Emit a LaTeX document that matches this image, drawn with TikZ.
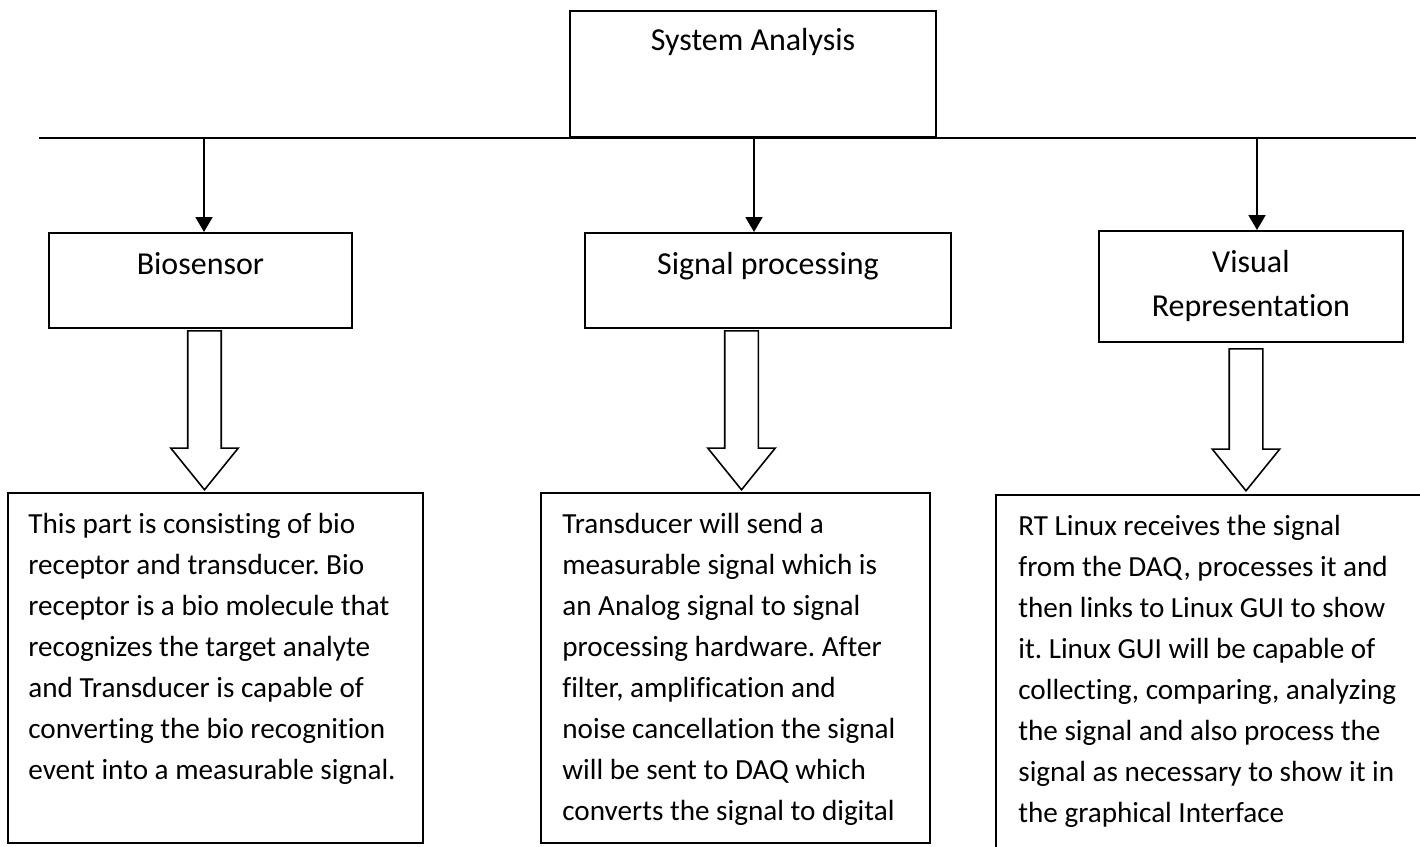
\documentclass[tikz,border=0pt]{standalone}
\usepackage{fontspec}
\setmainfont{Carlito}[Ligatures=CommonOff]
\frenchspacing
\usetikzlibrary{positioning, arrows.meta, shapes.arrows}

\begin{document}
\begin{tikzpicture}[x=0.02cm, y=-0.02cm,
		box/.style={rectangle, draw, line width=1.1pt, inner sep=0},
		head/.style={anchor=base, inner sep=0, align=center, font=\fontsize{18.2}{25.6}\selectfont},
		body/.style={anchor=base west, inner sep=0, align=left, font=\fontsize{16.6}{23.3}\selectfont},
		arrow/.style={-{Triangle[length=0.3cm, width=0.34cm]}, line width=1.1pt},
		hollow/.style={single arrow, draw, line width=0.9pt, shape border rotate=270, inner sep=0.32cm,
			single arrow head extend=0.34cm, single arrow tip angle=78, anchor=tail}
		]
		\clip (0,0) rectangle (1420,846);
		% Top box and bus line
		\node[box, minimum width=7.32cm, minimum height=2.52cm, anchor=south] (sys) at (753,138) {};
		\node[head] (systxt) at ([yshift=-0.8cm]sys.north) {System Analysis};
		\coordinate (busl) at (39,138);
		\coordinate (busr) at (1416,138);
		\draw[line width=1.1pt] (busl) -- (busr);
		% Second row
		\node[box, minimum width=6.06cm, minimum height=1.9cm, anchor=north west] (bio) at (48,232) {};
		\node[box, minimum width=7.32cm, minimum height=1.9cm, anchor=north west] (sig) at (584,232) {};
		\node[box, minimum width=6.08cm, minimum height=2.22cm, anchor=north west] (vis) at (1098,230) {};
		\node[head] (biotxt) at ([yshift=-0.84cm]bio.north) {Biosensor};
		\node[head] (sigtxt) at ([yshift=-0.84cm]sig.north) {Signal processing};
		\node[head] (vistxt) at ([yshift=-1.74cm]vis.north) {Visual\\ Representation};
		% Arrows from the bus line
		\foreach \n/\x in {bio/204, sig/754, vis/1257} {
			\coordinate (d\n) at (\x,138);
			\draw[arrow] (d\n) -- (d\n |- \n.north);
		}
		% Hollow arrows
		\node[hollow, minimum height=3.18cm] (bioar) at (204.5,330) {};
		\node[hollow, minimum height=3.18cm] (sigar) at (741.5,330) {};
		\node[hollow, minimum height=2.84cm] (visar) at (1246,348) {};
		% Description boxes (anchored at the last line)
		\node[box, minimum width=8.3cm, minimum height=7cm, anchor=north west] (biodesc) at (7,492) {};
		\node[box, minimum width=7.78cm, minimum height=7cm, anchor=north west] (sigdesc) at (540,492) {};
		\node[box, minimum width=8.7cm, minimum height=7.4cm, anchor=north west] (visdesc) at (995,494) {};
		\node[body] (biotext) at (28,779) {This part is consisting of bio\\ receptor and transducer. Bio\\ receptor is a bio molecule that\\ recognizes the target analyte\\ and Transducer is capable of\\ converting the bio recognition\\ event into a measurable signal.};
		\node[body] (sigtext) at (562,820) {Transducer will send a\\ measurable signal which is\\ an Analog signal to signal\\ processing hardware. After\\ filter, amplification and\\ noise cancellation the signal\\ will be sent to DAQ which\\ converts the signal to digital};
		\node[body] (vistext) at (1018,822) {RT Linux receives the signal\\ from the DAQ, processes it and\\ then links to Linux GUI to show\\ it. Linux GUI will be capable of\\ collecting, comparing, analyzing\\ the signal and also process the\\ signal as necessary to show it in\\ the graphical Interface};
	\end{tikzpicture}
\end{document}
